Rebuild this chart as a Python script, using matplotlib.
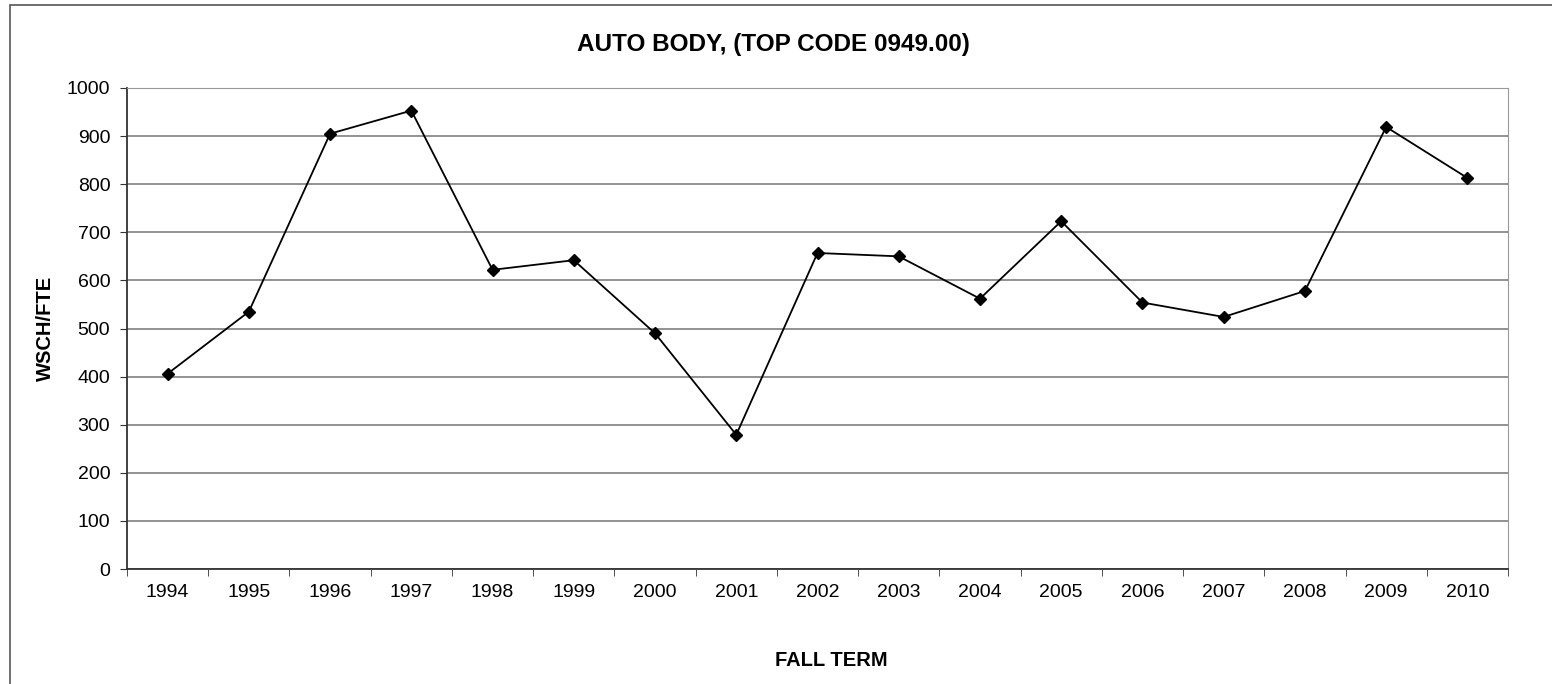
import matplotlib.pyplot as plt
from matplotlib.patches import Rectangle

plt.rcParams['font.family'] = ['Liberation Sans', 'DejaVu Sans']

years = ['1994', '1995', '1996', '1997', '1998', '1999', '2000', '2001', '2002',
         '2003', '2004', '2005', '2006', '2007', '2008', '2009', '2010']
wsch_fte = [406, 535, 905, 953, 622, 642, 490, 279, 657,
            650, 562, 723, 554, 524, 578, 919, 813]

fig = plt.figure(figsize=(15.52, 6.84), dpi=100)
# outer chart border (cut off at right and bottom like the source)
fig.patches.append(Rectangle((10 / 1552, -0.1), 1.2, 1.1 - 5 / 684, transform=fig.transFigure,
                             fill=False, edgecolor='#555555', linewidth=1.2))

ax = fig.add_axes([127 / 1552, 1 - 569 / 684, (1508 - 127) / 1552, (569 - 88) / 684])
x = list(range(len(years)))
ax.plot(x, wsch_fte, color='black', linewidth=1.3, marker='D', markersize=6)

ax.set_xlim(-0.5, len(years) - 0.5)
ax.set_ylim(0, 1000)
ax.set_yticks(range(0, 1001, 100))
ax.set_xticks(x)
ax.set_xticklabels(years)
ax.set_xticks([i - 0.5 for i in range(len(years) + 1)], minor=True)
ax.tick_params(axis='x', which='major', length=0, pad=11, labelsize=14)
ax.tick_params(axis='x', which='minor', length=5, direction='out', color='#333333')
ax.tick_params(axis='y', length=5, direction='out', labelsize=14, color='#333333', pad=7)

ax.grid(axis='y', color='#7f7f7f', linewidth=1.2)
ax.set_axisbelow(True)
for side in ['top', 'right']:
    ax.spines[side].set_color('#999999')
for side in ['left', 'bottom']:
    ax.spines[side].set_color('#333333')
    ax.spines[side].set_linewidth(1.3)

fig.text(773 / 1552, 1 - 45 / 684, 'AUTO BODY, (TOP CODE 0949.00)',
         ha='center', va='center', fontsize=17.5, fontweight='bold')
fig.text(45 / 1552, 1 - 328 / 684, 'WSCH/FTE', rotation=90, ha='center', va='center',
         fontsize=14.5, fontweight='bold')
fig.text(831 / 1552, 1 - 661 / 684, 'FALL TERM', ha='center', va='center',
         fontsize=14.5, fontweight='bold')

plt.savefig('out.png', dpi=100)
